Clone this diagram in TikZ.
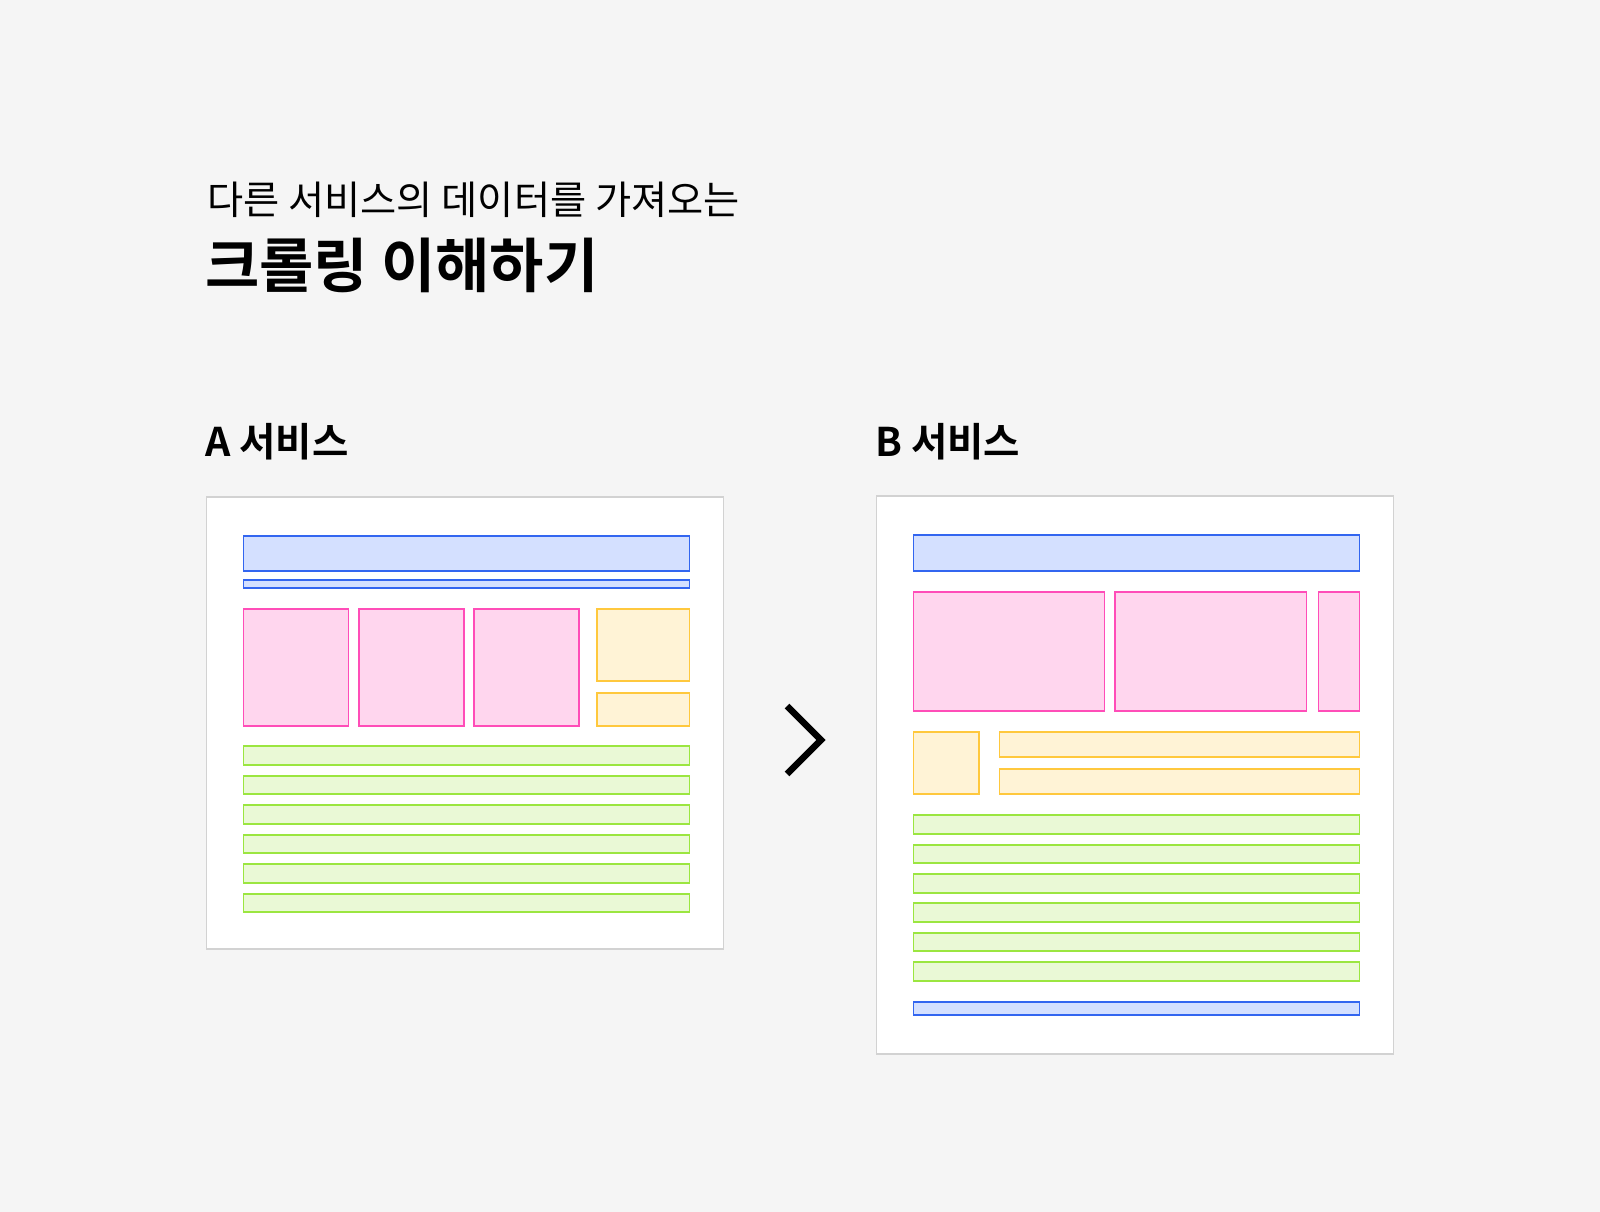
\documentclass[tikz,border=0pt]{standalone}
\usepackage{fontspec}
\setmainfont{Noto Sans CJK KR}
\newfontfamily\krbold{Noto Sans CJK KR Bold}
\usepackage{xcolor}
\definecolor{bgcol}{HTML}{F5F5F5}
\definecolor{framecol}{HTML}{D2D2D2}
\definecolor{bluedraw}{HTML}{3366F0}
\definecolor{bluefill}{HTML}{D4E0FF}
\definecolor{pinkdraw}{HTML}{FF4DB8}
\definecolor{pinkfill}{HTML}{FFD6EE}
\definecolor{orgdraw}{HTML}{FFC83D}
\definecolor{orgfill}{HTML}{FFF3D6}
\definecolor{grndraw}{HTML}{9BE640}
\definecolor{grnfill}{HTML}{EAF9D6}
\tikzset{
    panel/.style={draw=framecol, fill=white, line width=1.6pt},
    hdr/.style={draw=bluedraw, fill=bluefill, line width=1.5pt},
    img/.style={draw=pinkdraw, fill=pinkfill, line width=1.5pt},
    side/.style={draw=orgdraw, fill=orgfill, line width=1.5pt},
    txt/.style={draw=grndraw, fill=grnfill, line width=1.5pt},
    label/.style={anchor=west, inner sep=0pt, text=black},
}
\begin{document}
\begin{tikzpicture}[x=1pt, y=-1pt]
    \useasboundingbox[fill=bgcol] (0,0) rectangle (1600,1212);
    % titles
    \node [label, font=\fontsize{39.3}{44}\selectfont] (sub) at (207,200) {다른 서비스의 데이터를 가져오는};
    \node [label, font=\krbold\fontsize{59}{66}\selectfont] (title) at (205,265) {크롤링 이해하기};
    \node [label, font=\krbold\fontsize{39.5}{46}\selectfont] (alabel) at (205,442) {A 서비스};
    \node [label, font=\krbold\fontsize{39.5}{46}\selectfont] (blabel) at (875,442) {B 서비스};
    % A service
    \draw [panel] (206.5,497) rectangle (723.5,949);
    \draw [hdr] (243.5,536) rectangle (689.5,571);
    \draw [hdr] (243.5,580) rectangle (689.5,588);
    \draw [img] (243.5,609) rectangle (348.5,726);
    \draw [img] (359,609) rectangle (464,726);
    \draw [img] (474,609) rectangle (579,726);
    \draw [side] (597,609) rectangle (689.5,681);
    \draw [side] (597,693) rectangle (689.5,726);
    \draw [txt] (243.5,746) rectangle (689.5,765);
    \draw [txt] (243.5,776) rectangle (689.5,794);
    \draw [txt] (243.5,805) rectangle (689.5,824);
    \draw [txt] (243.5,835) rectangle (689.5,853);
    \draw [txt] (243.5,864) rectangle (689.5,883);
    \draw [txt] (243.5,894) rectangle (689.5,912);
    % arrow
    \draw [line width=6.5pt, miter limit=10] (787,706) -- (821,740) -- (787,774);
    % B service
    \draw [panel] (876.5,496) rectangle (1393.5,1054);
    \draw [hdr] (913.5,535) rectangle (1359.5,571);
    \draw [img] (913.5,592) rectangle (1104.5,711);
    \draw [img] (1115,592) rectangle (1306.5,711);
    \draw [img] (1318.5,592) rectangle (1359.5,711);
    \draw [side] (913.5,732) rectangle (979,794);
    \draw [side] (999.5,732) rectangle (1359.5,757);
    \draw [side] (999.5,769) rectangle (1359.5,794);
    \draw [txt] (913.5,815) rectangle (1359.5,834);
    \draw [txt] (913.5,845) rectangle (1359.5,863);
    \draw [txt] (913.5,874) rectangle (1359.5,893);
    \draw [txt] (913.5,903) rectangle (1359.5,922);
    \draw [txt] (913.5,933) rectangle (1359.5,951);
    \draw [txt] (913.5,962) rectangle (1359.5,981);
    \draw [hdr] (913.5,1002) rectangle (1359.5,1015);
\end{tikzpicture}
\end{document}
